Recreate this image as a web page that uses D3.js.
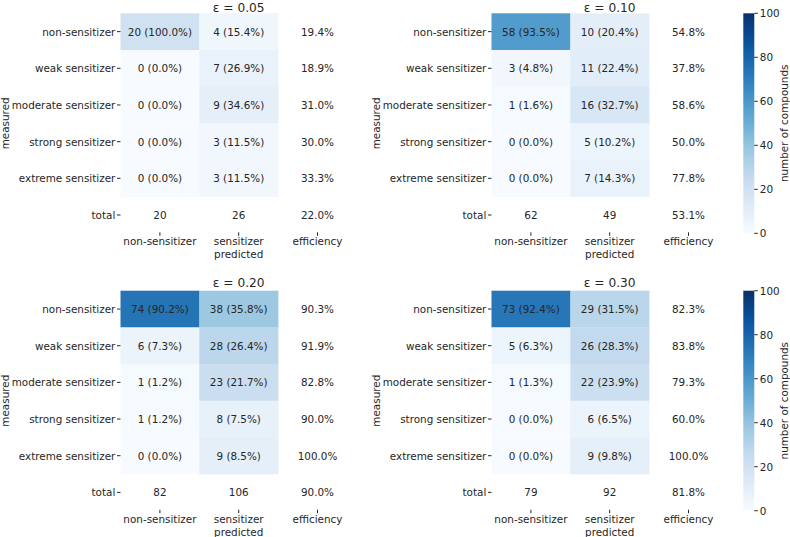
<!DOCTYPE html>
<html>
<head>
<meta charset="utf-8">
<script src="https://cdn.jsdelivr.net/npm/d3@7"></script>
<style>
  html, body { margin: 0; padding: 0; background: #ffffff; }
  svg { display: block; font-family: "DejaVu Sans", sans-serif; }
</style>
</head>
<body>
<svg id="chart" width="790" height="537"></svg>
<script>
// ---------- data ----------
const rowLabels = ["non-sensitizer", "weak sensitizer", "moderate sensitizer", "strong sensitizer", "extreme sensitizer", "total"];
const colLabels = ["non-sensitizer", "sensitizer", "efficiency"];
const epsilons = ["0.05", "0.10", "0.20", "0.30"];

const predNonSens = [
  [20, 0, 0, 0, 0],
  [58, 3, 1, 0, 0],
  [74, 6, 1, 1, 0],
  [73, 5, 1, 0, 0]
];
const predSens = [
  [4, 7, 9, 3, 3],
  [10, 11, 16, 5, 7],
  [38, 28, 23, 8, 9],
  [29, 26, 22, 6, 9]
];
const efficiency = [
  [19.4, 18.9, 31.0, 30.0, 33.3],
  [54.8, 37.8, 58.6, 50.0, 77.8],
  [90.3, 91.9, 82.8, 90.0, 100.0],
  [82.3, 83.8, 79.3, 60.0, 100.0]
];
const totalEfficiency = [22.0, 53.1, 90.0, 81.8];
const colorbarTicks = [0, 20, 40, 60, 80, 100];

// ---------- layout ----------
const svg = d3.select("#chart");
const textColor = "#262626";
const fs = 10.4;
const colW = 78.8, rowH = 36.67;
const axW = colW * 3, axH = rowH * 6;
const lefts = [120.5, 491.5];
const tops = [13.3, 290.7];

const bluesStops = ["#f7fbff", "#deebf7", "#c6dbef", "#9ecae1", "#6baed6", "#4292c6", "#2171b5", "#08519c", "#08306b"];
const blues = d3.piecewise(d3.interpolateRgb, bluesStops);
const color = d3.scaleSequential(blues).domain([0, 100]);

epsilons.forEach((eps, p) => {
  const x0 = lefts[p % 2], y0 = tops[Math.floor(p / 2)];
  const g = svg.append("g").attr("transform", `translate(${x0},${y0})`);
  const x = d3.scaleBand().domain(d3.range(3)).range([0, axW]);
  const y = d3.scaleBand().domain(d3.range(6)).range([0, axH]);

  const ns = predNonSens[p], se = predSens[p];
  const totNs = d3.sum(ns), totSe = d3.sum(se);

  // cells
  const cells = [];
  for (let r = 0; r < 5; r++) {
    cells.push({ r, c: 0, v: ns[r], label: `${ns[r]} (${(100 * ns[r] / totNs).toFixed(1)}%)` });
    cells.push({ r, c: 1, v: se[r], label: `${se[r]} (${(100 * se[r] / totSe).toFixed(1)}%)` });
  }
  g.selectAll("rect.cell").data(cells).join("rect")
    .attr("class", "cell")
    .attr("x", d => x(d.c)).attr("y", d => y(d.r))
    .attr("width", x.bandwidth() + 0.3).attr("height", y.bandwidth() + 0.3)
    .attr("fill", d => color(d.v));

  const texts = cells.slice();
  for (let r = 0; r < 5; r++) texts.push({ r, c: 2, label: `${efficiency[p][r].toFixed(1)}%` });
  texts.push({ r: 5, c: 0, label: `${totNs}` });
  texts.push({ r: 5, c: 1, label: `${totSe}` });
  texts.push({ r: 5, c: 2, label: `${totalEfficiency[p].toFixed(1)}%` });

  g.selectAll("text.annot").data(texts).join("text")
    .attr("class", "annot")
    .attr("x", d => x(d.c) + x.bandwidth() / 2)
    .attr("y", d => y(d.r) + y.bandwidth() / 2)
    .attr("text-anchor", "middle").attr("dominant-baseline", "central")
    .attr("font-size", fs).attr("fill", textColor)
    .text(d => d.label);

  // y ticks
  const yt = g.selectAll("g.ytick").data(rowLabels).join("g")
    .attr("class", "ytick")
    .attr("transform", (d, i) => `translate(0,${y(i) + y.bandwidth() / 2})`);
  yt.append("line").attr("x1", -3.5).attr("x2", 0).attr("stroke", textColor).attr("stroke-width", 1);
  yt.append("text").attr("x", -5.2).attr("text-anchor", "end").attr("dominant-baseline", "central")
    .attr("font-size", fs).attr("fill", textColor).text(d => d);

  // x ticks
  const xt = g.selectAll("g.xtick").data(colLabels).join("g")
    .attr("class", "xtick")
    .attr("transform", (d, i) => `translate(${x(i) + x.bandwidth() / 2},${axH})`);
  xt.append("line").attr("y1", -1).attr("y2", 2.5).attr("stroke", textColor).attr("stroke-width", 1);
  xt.append("text").attr("y", 11.8).attr("text-anchor", "middle")
    .attr("font-size", fs).attr("fill", textColor).text(d => d);

  // axis labels
  g.append("text").attr("x", axW / 2).attr("y", axH + 24.8).attr("text-anchor", "middle")
    .attr("font-size", fs).attr("fill", textColor).text("predicted");
  g.append("text").attr("transform", `translate(${-115.5},${axH / 2}) rotate(-90)`)
    .attr("text-anchor", "middle").attr("dominant-baseline", "central")
    .attr("font-size", fs).attr("fill", textColor).text("measured");

  // title
  const ty = Math.max(-3.7, -y0 + 11.6);
  g.append("text").attr("x", axW / 2).attr("y", ty).attr("text-anchor", "middle")
    .attr("font-size", 12.2).attr("fill", textColor).text(`ε = ${eps}`);
});

// ---------- colorbars ----------
const defs = svg.append("defs");
const grad = defs.append("linearGradient").attr("id", "bluesGrad")
  .attr("x1", 0).attr("y1", 1).attr("x2", 0).attr("y2", 0);
d3.range(0, 1.0001, 0.05).forEach(t => {
  grad.append("stop").attr("offset", t).attr("stop-color", blues(t));
});

tops.forEach(t0 => {
  const cb = svg.append("g").attr("transform", `translate(743.3,${t0})`);
  const cy = d3.scaleLinear().domain([0, 100]).range([axH, 0]);
  cb.append("rect").attr("width", 11).attr("height", axH).attr("fill", "url(#bluesGrad)");
  const tk = cb.selectAll("g.cbt").data(colorbarTicks).join("g")
    .attr("transform", d => `translate(11,${cy(d)})`);
  tk.append("line").attr("x1", 0).attr("x2", 3.5).attr("stroke", textColor);
  tk.append("text").attr("x", 5.5).attr("dominant-baseline", "central")
    .attr("font-size", fs).attr("fill", textColor).text(d => d);
  cb.append("text").attr("transform", `translate(40.5,${axH / 2}) rotate(-90)`)
    .attr("text-anchor", "middle").attr("dominant-baseline", "central")
    .attr("font-size", fs).attr("fill", textColor).text("number of compounds");
});
</script>
</body>
</html>
